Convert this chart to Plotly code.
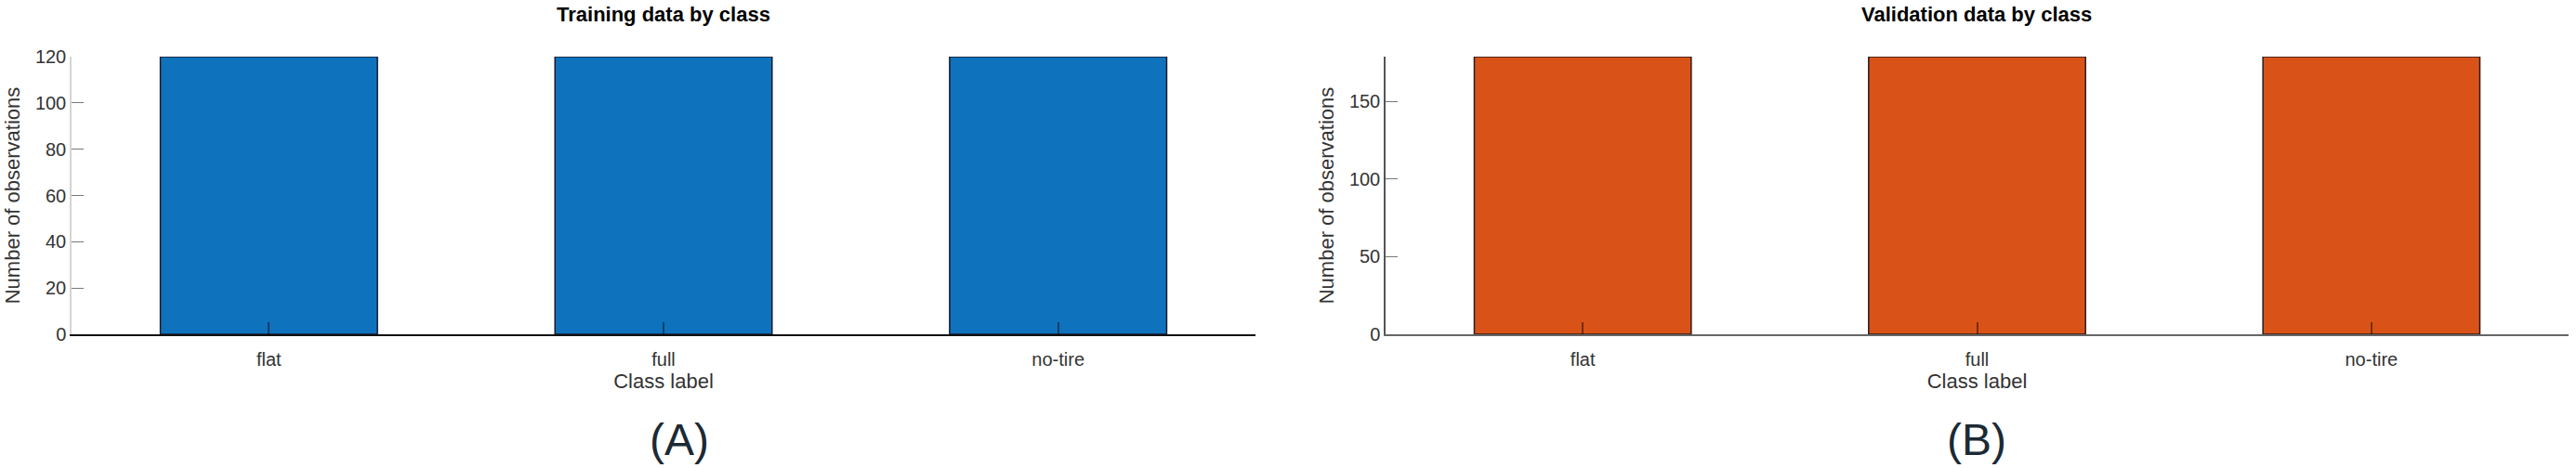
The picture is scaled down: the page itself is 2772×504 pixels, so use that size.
import plotly.graph_objects as go

categories = ["flat", "full", "no-tire"]
train_counts = [120, 120, 120]
val_counts = [179, 179, 179]
train_ticks = [0, 20, 40, 60, 80, 100, 120]
val_ticks = [0, 50, 100, 150]

W, H = 2772, 504
FONT = "Arial, Liberation Sans, sans-serif"

fig = go.Figure()
fig.add_trace(go.Bar(x=categories, y=train_counts, xaxis="x", yaxis="y",
                     width=0.55, marker=dict(color="#0F72BD", line=dict(color="#1a1a2a", width=1.5)),
                     showlegend=False))
fig.add_trace(go.Bar(x=categories, y=val_counts, xaxis="x2", yaxis="y2",
                     width=0.55, marker=dict(color="#D95319", line=dict(color="#2a1a1a", width=1.5)),
                     showlegend=False))

def px_x(p):
    return p / W

def px_y(p):
    return 1 - p / H

xcommon = dict(type="category", range=[-0.5, 2.5], ticks="inside", ticklen=13,
               tickcolor="rgba(0,0,0,0.45)", tickwidth=1.5, showgrid=False, zeroline=False,
               showline=True, tickfont=dict(size=20, color="#333333", family=FONT),
               ticklabelstandoff=8, fixedrange=True, automargin=False)
ycommon = dict(ticks="inside", ticklen=13, tickcolor="#777777", tickwidth=1.2, showgrid=False,
               zeroline=False, showline=True, tickfont=dict(size=20, color="#333333", family=FONT),
               fixedrange=True, automargin=False)

fig.update_layout(
    width=W, height=H, margin=dict(l=0, r=0, t=0, b=0, autoexpand=False),
    paper_bgcolor="white", plot_bgcolor="white",
    font=dict(family=FONT, color="#333333"),
    xaxis=dict(domain=[px_x(77), px_x(1351)], anchor="y", linecolor="#111111", linewidth=2,
               title=dict(text="Class label", font=dict(size=22, color="#333333"), standoff=6),
               **xcommon),
    yaxis=dict(domain=[px_y(360), px_y(61)], anchor="x", range=[0, 120], tickvals=train_ticks,
               linecolor="#d4d4d4", linewidth=1.5,
               title=dict(text="Number of observations", font=dict(size=22, color="#333333"), standoff=10),
               **ycommon),
    xaxis2=dict(domain=[px_x(1491), px_x(2764)], anchor="y2", linecolor="#666666", linewidth=2,
                title=dict(text="Class label", font=dict(size=22, color="#333333"), standoff=6),
                **xcommon),
    yaxis2=dict(domain=[px_y(360), px_y(61)], anchor="x2", range=[0, 179], tickvals=val_ticks,
                linecolor="#555555", linewidth=1.5,
                title=dict(text="Number of observations", font=dict(size=22, color="#333333"), standoff=10),
                **ycommon),
    annotations=[
        dict(text="<b>Training data by class</b>", x=px_x(714), y=px_y(15), xref="paper", yref="paper",
             showarrow=False, xanchor="center", yanchor="middle", font=dict(size=22, color="#000000")),
        dict(text="<b>Validation data by class</b>", x=px_x(2127), y=px_y(15), xref="paper", yref="paper",
             showarrow=False, xanchor="center", yanchor="middle", font=dict(size=22, color="#000000")),
        dict(text="(A)", x=px_x(731), y=px_y(473), xref="paper", yref="paper",
             showarrow=False, xanchor="center", yanchor="middle", font=dict(size=48, color="#1b2a35")),
        dict(text="(B)", x=px_x(2127), y=px_y(473), xref="paper", yref="paper",
             showarrow=False, xanchor="center", yanchor="middle", font=dict(size=48, color="#1b2a35")),
    ],
)

fig.write_html("out.html", config={"displayModeBar": False},
               post_script="document.body.style.margin='0';document.body.style.overflow='hidden';")
